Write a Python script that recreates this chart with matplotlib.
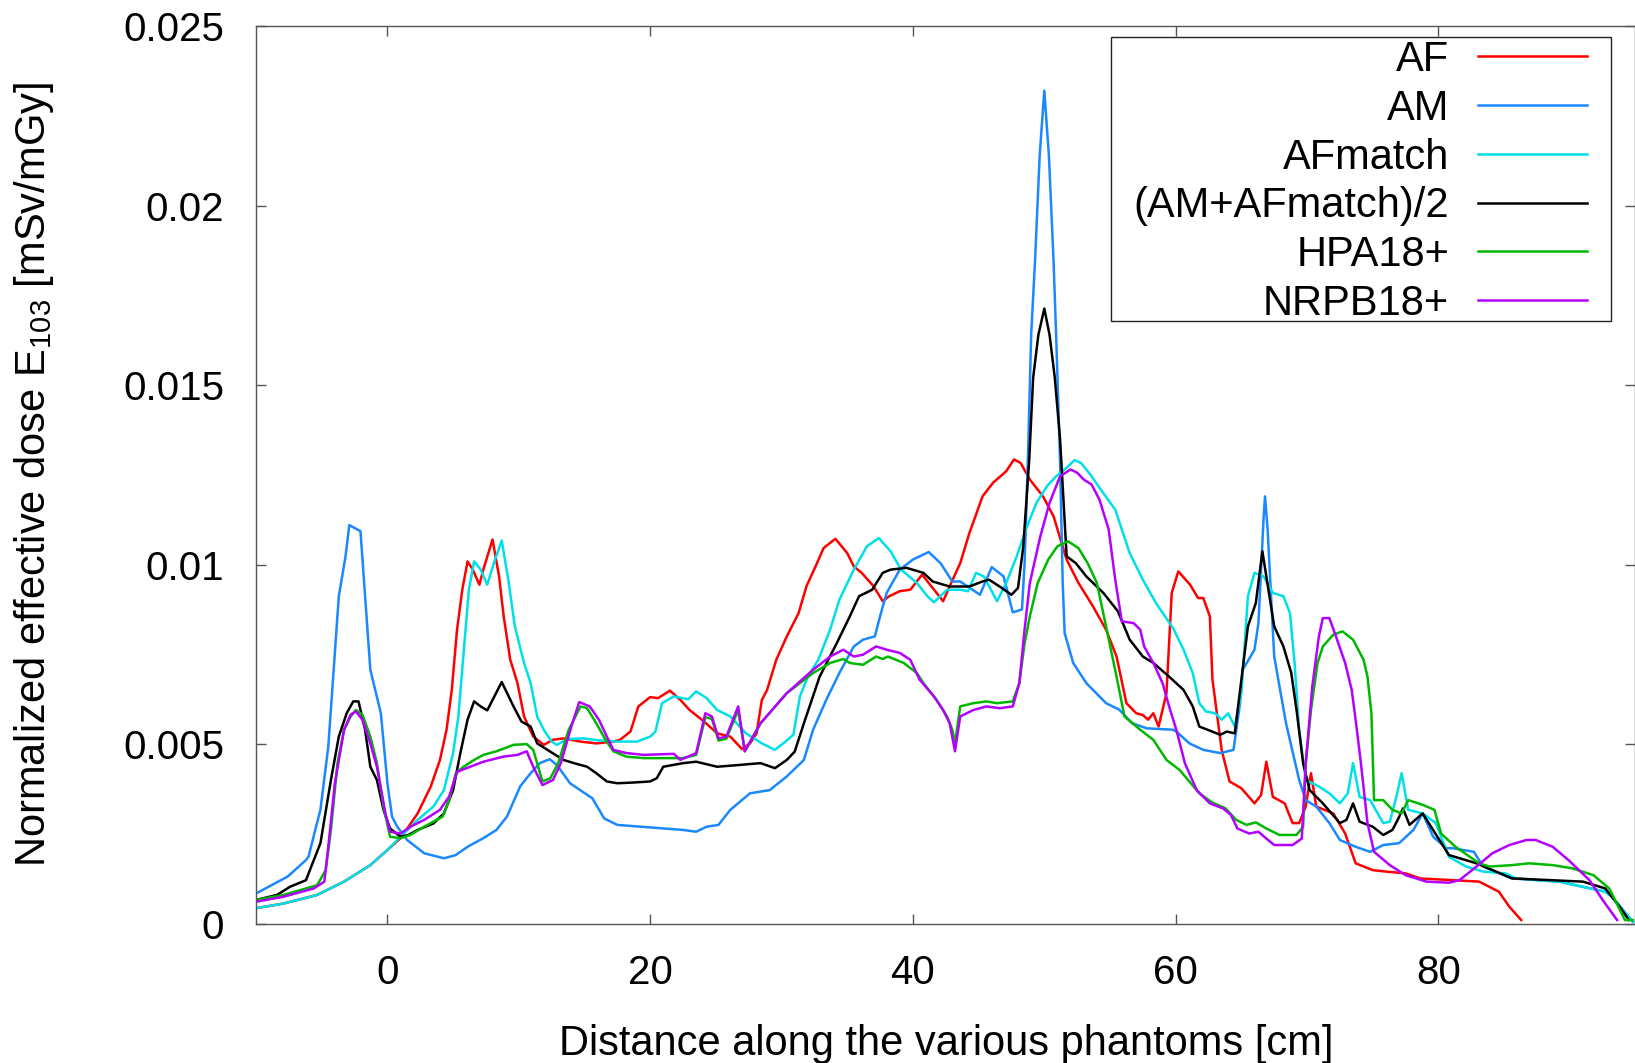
import numpy as np
import matplotlib
matplotlib.use("Agg")
import matplotlib.pyplot as plt
from matplotlib.patches import Rectangle
from matplotlib.ticker import FuncFormatter

plt.rcParams["font.family"] = ["Liberation Sans", "DejaVu Sans"]
plt.rcParams["mathtext.fontset"] = "custom"
plt.rcParams["mathtext.rm"] = "Liberation Sans"

# (distance [cm], dose [1e-3 mSv/mGy])
AF = [(-10, 0.43), (-7.9, 0.56), (-5.35, 0.80), (-3.3, 1.17), (-1.3, 1.63), (0, 2.05), (1.0, 2.38),
      (2.3, 3.07), (3.3, 3.82), (4.0, 4.56), (4.5, 5.40), (4.9, 6.51), (5.3, 8.19), (5.7, 9.30),
      (6.1, 10.09), (6.5, 9.86), (7.0, 9.44), (7.3, 9.86), (8.0, 10.70), (8.5, 9.67), (8.85, 8.56),
      (9.35, 7.35), (9.9, 6.70), (10.4, 5.77), (11.1, 5.21), (11.9, 4.98), (12.6, 5.12), (13.4, 5.16),
      (14.7, 5.07), (15.9, 5.02), (17.2, 5.07), (17.7, 5.12), (18.5, 5.35), (19.1, 6.05), (20.0, 6.31),
      (20.6, 6.28), (21.5, 6.49), (22.3, 6.23), (23.0, 5.95), (24.1, 5.63), (25.1, 5.30), (26.1, 5.21),
      (27.0, 4.86), (27.6, 5.02), (28.1, 5.30), (28.5, 6.23), (28.9, 6.51), (29.6, 7.35), (30.4, 8.00),
      (31.3, 8.65), (31.9, 9.40), (32.7, 10.04), (33.2, 10.46), (34.1, 10.72), (35.0, 10.32),
      (35.5, 9.95), (36.1, 9.77), (37.0, 9.40), (37.7, 8.98), (38.2, 9.12), (39.0, 9.26), (39.8, 9.30),
      (40.7, 9.72), (41.5, 9.35), (42.3, 8.98), (42.8, 9.40), (43.6, 10.04), (44.3, 10.88),
      (45.3, 11.90), (46.1, 12.28), (47.1, 12.60), (47.7, 12.93), (48.2, 12.83), (48.9, 12.37),
      (49.9, 11.90), (50.7, 11.35), (51.7, 10.14), (52.6, 9.49), (53.7, 8.84), (54.7, 8.19),
      (55.5, 7.44), (56.25, 6.14), (57.0, 5.86), (57.5, 5.81), (57.9, 5.68), (58.3, 5.86), (58.7, 5.49),
      (59.3, 6.42), (59.7, 9.21), (60.2, 9.81), (61.1, 9.44), (61.7, 9.07), (62.1, 9.07), (62.6, 8.56),
      (62.8, 6.80), (63.5, 4.84), (64.1, 3.96), (65.0, 3.77), (66.0, 3.35), (66.5, 3.58), (66.9, 4.51),
      (67.4, 3.53), (68.3, 3.35), (68.9, 2.80), (69.4, 2.80), (69.9, 3.26), (70.3, 4.19), (70.7, 3.26),
      (72.0, 3.07), (72.9, 2.51), (73.7, 1.68), (75.0, 1.49), (76.0, 1.45), (77.5, 1.40), (78.6, 1.26),
      (81.1, 1.21), (83.1, 1.17), (84.6, 0.89), (85.4, 0.47), (86.3, 0.10)]

AM = [(-10, 0.84), (-7.6, 1.31), (-6.2, 1.77), (-6.0, 1.87), (-5.5, 2.60), (-5.1, 3.17), (-4.5, 4.93),
      (-3.7, 9.12), (-3.2, 10.2), (-2.9, 11.1), (-2.05, 10.93), (-1.7, 9.12), (-1.3, 7.07), (-0.5, 5.86),
      (0.0, 3.91), (0.35, 2.98), (0.75, 2.70), (1.5, 2.33), (2.8, 1.96), (4.3, 1.82), (5.2, 1.91),
      (6.1, 2.14), (7.3, 2.38), (8.3, 2.61), (9.1, 2.98), (10.1, 3.82), (10.9, 4.19), (11.6, 4.47),
      (12.35, 4.58), (12.9, 4.42), (13.9, 3.91), (15.6, 3.49), (16.5, 2.93), (17.5, 2.75), (20.0, 2.68),
      (22.5, 2.61), (23.5, 2.56), (24.3, 2.70), (25.2, 2.75), (26.1, 3.17), (27.6, 3.63), (29.1, 3.72),
      (30.4, 4.10), (31.7, 4.56), (32.4, 5.40), (33.4, 6.23), (34.4, 6.98), (35.5, 7.72), (36.2, 7.91),
      (37.1, 8.00), (37.5, 8.56), (38.0, 9.21), (39.0, 9.86), (40.0, 10.14), (41.2, 10.35), (42.1, 10.04),
      (43.0, 9.53), (43.6, 9.53), (45.1, 9.16), (46.0, 9.93), (46.9, 9.67), (47.6, 8.67), (48.3, 8.75),
      (48.5, 10.04), (48.75, 12.9), (49.0, 16.4), (49.3, 18.5), (49.65, 21.4), (50.0, 23.2),
      (50.35, 21.4), (50.7, 18.5), (50.9, 16.4), (51.2, 12.9), (51.4, 9.5), (51.55, 8.09), (52.2, 7.26),
      (53.2, 6.70), (54.7, 6.14), (55.7, 5.96), (56.7, 5.58), (57.8, 5.44), (59.8, 5.40), (60.05, 5.35),
      (61.05, 5.02), (62.1, 4.84), (63.4, 4.75), (64.4, 4.84), (64.9, 6.14), (65.1, 7.07), (66.0, 7.63),
      (66.3, 8.37), (66.7, 11.35), (66.8, 11.9), (67.0, 10.97), (67.5, 7.44), (68.4, 5.58), (69.4, 4.00),
      (69.9, 3.44), (70.7, 3.26), (71.7, 2.80), (72.5, 2.33), (73.7, 2.14), (74.8, 2.00), (75.8, 2.19),
      (77.0, 2.24), (78.1, 2.61), (78.8, 3.07), (79.6, 2.42), (80.6, 2.10), (81.1, 2.10), (82.7, 2.00),
      (83.4, 1.59), (85.6, 1.26), (89.2, 1.17), (92.7, 0.89), (93.2, 0.75), (94.8, 0.05)]

AF_MATCH = [(-10, 0.43), (-7.9, 0.56), (-5.35, 0.80), (-3.3, 1.17), (-1.3, 1.63), (0, 2.05), (1.0, 2.42),
            (2.3, 2.89), (3.5, 3.26), (4.3, 3.72), (5.0, 4.75), (5.4, 5.77), (5.8, 7.54), (6.2, 9.30),
            (6.6, 10.09), (7.1, 9.86), (7.6, 9.44), (8.1, 10.04), (8.7, 10.67), (9.2, 9.58), (9.7, 8.28),
            (10.4, 7.26), (10.9, 6.70), (11.4, 5.77), (11.9, 5.40), (12.5, 5.07), (12.9, 4.98),
            (13.7, 5.14), (14.9, 5.16), (16.2, 5.10), (17.5, 5.07), (19.0, 5.07), (20.0, 5.21),
            (20.4, 5.35), (20.9, 6.14), (21.8, 6.33), (22.9, 6.25), (23.5, 6.47), (24.3, 6.28),
            (25.1, 5.95), (26.1, 5.77), (27.3, 5.30), (28.5, 5.02), (29.5, 4.84), (30.3, 5.07),
            (30.9, 5.26), (31.4, 6.33), (32.0, 6.88), (32.8, 7.35), (33.7, 8.19), (34.4, 9.02),
            (35.5, 9.86), (36.5, 10.51), (37.4, 10.74), (38.3, 10.37), (39.1, 9.86), (40.3, 9.49),
            (41.1, 9.12), (41.6, 8.95), (42.6, 9.30), (43.6, 9.30), (44.2, 9.26), (44.8, 9.77),
            (45.4, 9.67), (45.8, 9.40), (46.4, 8.98), (47.1, 9.49), (47.9, 10.23), (48.6, 10.98),
            (49.4, 11.72), (50.2, 12.18), (50.9, 12.46), (51.7, 12.70), (52.3, 12.91), (52.8, 12.83),
            (53.5, 12.51), (54.2, 12.14), (55.4, 11.53), (56.5, 10.32), (57.5, 9.58), (58.5, 8.93),
            (59.8, 8.23), (60.6, 7.63), (61.3, 6.98), (61.8, 6.14), (62.3, 5.91), (63.0, 5.86),
            (63.5, 5.68), (64.0, 5.86), (64.5, 5.49), (65.0, 6.42), (65.5, 9.12), (66.0, 9.77),
            (66.7, 9.67), (67.4, 9.21), (68.2, 9.12), (68.7, 8.65), (69.05, 7.26), (69.4, 5.40),
            (69.9, 4.00), (70.9, 3.82), (71.7, 3.63), (72.5, 3.35), (73.1, 3.63), (73.5, 4.47),
            (74.0, 3.53), (74.8, 3.44), (75.8, 2.80), (76.3, 2.84), (76.8, 3.53), (77.2, 4.19),
            (77.7, 3.17), (78.8, 3.07), (79.8, 2.80), (80.8, 1.86), (82.1, 1.59), (83.4, 1.45),
            (85.1, 1.40), (85.9, 1.26), (89.2, 1.17), (92.7, 0.89), (93.2, 0.75), (94.8, 0.05)]

MEAN_AM_AFMATCH = [(-10, 0.66), (-8.4, 0.80), (-7.4, 1.03), (-6.2, 1.21), (-5.7, 1.68), (-5.1, 2.24),
                   (-4.3, 4.00), (-3.7, 5.21), (-3.1, 5.86), (-2.6, 6.19), (-2.2, 6.19), (-1.7, 5.40),
                   (-1.3, 4.37), (-0.8, 4.00), (-0.3, 3.17), (0.2, 2.65), (1.0, 2.42), (1.6, 2.47),
                   (2.3, 2.61), (3.5, 2.79), (4.3, 3.07), (5.0, 3.72), (5.55, 4.75), (6.1, 5.68),
                   (6.6, 6.19), (7.1, 6.05), (7.6, 5.94), (8.7, 6.73), (9.6, 6.05), (10.2, 5.63),
                   (10.9, 5.49), (11.4, 5.02), (12.4, 4.79), (13.4, 4.56), (14.2, 4.47), (15.2, 4.37),
                   (15.9, 4.19), (16.7, 3.96), (17.5, 3.91), (18.7, 3.93), (20.0, 3.96), (20.5, 4.05),
                   (21.0, 4.37), (22.5, 4.47), (23.5, 4.51), (25.1, 4.37), (26.8, 4.42), (28.4, 4.47),
                   (29.5, 4.33), (30.4, 4.56), (31.0, 4.79), (31.7, 5.58), (32.9, 6.88), (34.2, 7.81),
                   (35.2, 8.56), (35.9, 9.12), (36.9, 9.30), (37.7, 9.77), (38.3, 9.86), (39.5, 9.91),
                   (40.8, 9.77), (41.5, 9.53), (42.8, 9.39), (44.3, 9.39), (45.3, 9.53), (45.8, 9.58),
                   (46.6, 9.39), (47.5, 9.16), (48.0, 9.35), (48.4, 10.51), (48.85, 12.9), (49.15, 15.2),
                   (49.55, 16.4), (50.0, 17.13), (50.4, 16.4), (50.8, 15.2), (51.2, 13.5), (51.7, 10.23),
                   (52.4, 10.04), (53.2, 9.67), (54.5, 9.21), (55.6, 8.70), (56.5, 7.91), (57.5, 7.44),
                   (58.3, 7.26), (59.5, 6.88), (60.6, 6.51), (61.3, 6.05), (61.8, 5.49), (63.4, 5.26),
                   (63.9, 5.35), (64.5, 5.30), (65.5, 8.28), (66.1, 8.93), (66.6, 10.37), (67.5, 8.28),
                   (68.2, 7.72), (68.8, 6.98), (69.2, 5.95), (69.7, 4.47), (70.2, 3.72), (71.2, 3.35),
                   (72.5, 2.80), (73.0, 2.89), (73.5, 3.35), (74.0, 2.84), (75.0, 2.70), (75.8, 2.47),
                   (76.5, 2.61), (76.9, 2.89), (77.3, 3.21), (77.8, 2.75), (78.8, 3.07), (80.8, 1.91),
                   (82.9, 1.68), (85.6, 1.26), (91.0, 1.17), (92.7, 0.98), (93.8, 0.47), (94.5, 0.10)]

HPA18 = [(-10, 0.66), (-7.9, 0.80), (-5.35, 1.07), (-4.7, 1.49), (-4.3, 2.61), (-3.8, 4.47), (-3.3, 5.40),
         (-2.8, 5.77), (-2.4, 5.95), (-1.9, 5.82), (-1.3, 5.21), (-0.8, 4.47), (-0.3, 3.26), (0.2, 2.42),
         (1.0, 2.38), (1.75, 2.47), (2.8, 2.70), (4.2, 2.98), (4.7, 3.44), (5.2, 4.19), (5.8, 4.37),
         (6.6, 4.56), (7.3, 4.70), (8.3, 4.80), (9.6, 4.98), (10.6, 5.00), (11.1, 4.84), (11.8, 3.96),
         (12.4, 4.05), (13.0, 4.47), (13.8, 5.40), (14.7, 6.05), (15.2, 6.00), (15.9, 5.58), (16.6, 5.12),
         (17.2, 4.80), (18.2, 4.65), (19.5, 4.61), (21.0, 4.61), (22.5, 4.61), (23.5, 4.70), (24.2, 5.75),
         (24.7, 5.70), (25.2, 5.10), (25.8, 5.15), (26.7, 5.95), (27.2, 4.80), (28.4, 5.58), (30.4, 6.42),
         (32.4, 6.98), (33.7, 7.26), (34.7, 7.37), (35.2, 7.26), (36.2, 7.21), (37.2, 7.44), (37.7, 7.37),
         (38.1, 7.44), (39.3, 7.26), (40.3, 6.98), (40.8, 6.70), (41.8, 6.23), (42.6, 5.77), (43.0, 5.40),
         (43.2, 5.02), (43.6, 6.05), (44.6, 6.14), (45.6, 6.19), (46.4, 6.14), (47.6, 6.19), (48.1, 6.70),
         (48.5, 7.81), (48.9, 8.56), (49.5, 9.49), (50.3, 10.14), (51.0, 10.51), (51.8, 10.65),
         (52.6, 10.46), (53.3, 10.04), (54.0, 9.49), (54.7, 8.28), (55.5, 6.88), (56.1, 5.77), (57.3, 5.40),
         (58.3, 5.12), (59.3, 4.56), (60.3, 4.28), (61.8, 3.63), (62.8, 3.37), (63.8, 3.21), (64.6, 2.89),
         (65.4, 2.75), (66.1, 2.82), (66.9, 2.65), (67.9, 2.47), (69.2, 2.47), (69.7, 2.70), (69.9, 4.47),
         (70.3, 5.95), (70.8, 7.26), (71.2, 7.72), (72.0, 8.05), (72.7, 8.14), (73.5, 7.91), (74.3, 7.35),
         (74.6, 6.88), (74.9, 5.86), (75.1, 3.44), (75.8, 3.44), (76.5, 3.17), (77.2, 3.07), (77.7, 3.44),
         (78.8, 3.31), (79.7, 3.17), (80.2, 2.51), (81.3, 2.14), (83.1, 1.68), (83.9, 1.59), (85.6, 1.63),
         (86.9, 1.68), (88.7, 1.63), (90.2, 1.54), (91.8, 1.35), (93.0, 0.98), (94.2, 0.10), (94.8, 0.10)]

NRPB18 = [(-10, 0.61), (-7.9, 0.75), (-5.6, 0.98), (-4.8, 1.17), (-4.5, 2.14), (-4.0, 3.91), (-3.3, 5.40),
          (-2.8, 5.82), (-2.4, 5.91), (-1.9, 5.68), (-1.3, 5.02), (-0.8, 4.37), (-0.15, 3.07), (0.2, 2.56),
          (1.0, 2.51), (1.75, 2.70), (2.8, 2.89), (4.0, 3.17), (4.7, 3.54), (5.3, 4.23), (6.3, 4.37),
          (7.3, 4.51), (8.8, 4.65), (9.9, 4.70), (10.6, 4.80), (11.1, 4.37), (11.8, 3.86), (12.6, 4.00),
          (13.2, 4.47), (14.0, 5.49), (14.6, 6.17), (15.4, 6.05), (16.1, 5.68), (16.7, 5.21), (17.2, 4.84),
          (18.2, 4.75), (19.5, 4.70), (21.8, 4.73), (22.3, 4.56), (23.5, 4.75), (24.2, 5.86), (24.7, 5.77),
          (25.2, 5.16), (25.8, 5.21), (26.7, 6.05), (27.2, 4.80), (28.4, 5.58), (30.4, 6.42), (32.4, 7.07),
          (33.7, 7.44), (34.7, 7.63), (35.5, 7.44), (36.2, 7.49), (37.2, 7.72), (38.0, 7.63), (39.0, 7.54),
          (39.8, 7.35), (40.5, 6.80), (41.6, 6.33), (42.3, 5.95), (42.8, 5.58), (43.2, 4.80), (43.6, 5.77),
          (44.6, 5.95), (45.6, 6.05), (46.6, 6.00), (47.6, 6.05), (48.1, 6.70), (48.5, 8.19), (48.9, 9.49),
          (49.7, 10.79), (50.4, 11.72), (51.2, 12.46), (52.0, 12.65), (52.5, 12.56), (53.0, 12.37),
          (53.6, 12.23), (54.2, 11.81), (54.9, 10.98), (55.4, 9.58), (55.9, 8.42), (56.8, 8.37),
          (57.3, 8.19), (57.6, 7.72), (58.3, 7.26), (59.0, 6.70), (59.5, 6.05), (60.05, 5.40), (60.7, 4.47),
          (61.6, 3.72), (62.6, 3.35), (63.6, 3.21), (64.2, 3.03), (64.7, 2.65), (65.6, 2.51), (66.3, 2.56),
          (66.9, 2.37), (67.5, 2.19), (68.9, 2.19), (69.6, 2.37), (69.9, 4.47), (70.4, 6.61), (70.9, 8.00),
          (71.2, 8.51), (71.7, 8.51), (72.2, 8.00), (72.9, 7.26), (73.4, 6.51), (73.7, 5.67), (74.1, 4.47),
          (74.6, 2.80), (75.1, 2.00), (76.3, 1.63), (77.5, 1.35), (79.1, 1.17), (80.8, 1.14), (81.6, 1.21),
          (82.9, 1.59), (84.1, 1.96), (85.4, 2.19), (86.7, 2.33), (87.4, 2.33), (88.7, 2.14), (89.9, 1.77),
          (91.5, 1.21), (92.5, 0.66), (93.6, 0.10)]

LABELS = ["AF", "AM", "AFmatch", "(AM+AFmatch)/2", "HPA18+", "NRPB18+"]
COLORS = ["#ff0000", "#1a88ff", "#00e0e8", "#000000", "#00b800", "#b400ff"]
X_TICKS = [0, 20, 40, 60, 80]
Y_TICKS = [0, 0.005, 0.01, 0.015, 0.02, 0.025]


def main():
    fig = plt.figure(figsize=(16.35, 10.63), dpi=100)
    ax = fig.add_axes([0.1566, 0.1311, 0.8437, 0.8444])

    series = [AF, AM, AF_MATCH, MEAN_AM_AFMATCH, HPA18, NRPB18]
    for pts, label, color in zip(series, LABELS, COLORS):
        x, y = np.array(pts).T
        ax.plot(x, y * 1e-3, color=color, lw=1.8, label=label)

    ax.set_xlim(-10, 95)
    ax.set_ylim(0, 0.025)
    ax.set_xticks(X_TICKS)
    ax.set_yticks(Y_TICKS)
    ax.yaxis.set_major_formatter(FuncFormatter(lambda v, _: f"{v:g}"))
    ax.tick_params(direction="in", length=7.5, width=1.0, color="#555555",
                   top=True, right=True, labelsize=29)
    ax.tick_params(axis="y", pad=23)
    ax.tick_params(axis="x", pad=22)
    for sp in ax.spines.values():
        sp.set_color("#555555")
        sp.set_linewidth(1.0)

    ax.set_xlabel("Distance along the various phantoms [cm]", fontsize=30)
    ax.set_ylabel(r"Normalized effective dose E$_\mathregular{103}$ [mSv/mGy]", fontsize=30)
    ax.xaxis.set_label_coords(0.5, -0.112)
    ax.yaxis.set_label_coords(-0.145, 0.5)

    ax.legend(loc="upper right", bbox_to_anchor=(0.9645, 0.9844), borderaxespad=0,
              borderpad=0, frameon=False, markerfirst=False, fontsize=30,
              handlelength=2.6, handletextpad=0.7, labelspacing=0.21)
    # gnuplot-style key box
    ax.add_patch(Rectangle((0.6196, 0.6713), 0.982 - 0.6196, 0.9877 - 0.6713,
                           transform=ax.transAxes, fill=False, edgecolor="#222222",
                           lw=1.0, zorder=5))

    return fig, ax


if __name__ == "__main__":
    fig, _ = main()
    fig.savefig("out.png", dpi=100)
